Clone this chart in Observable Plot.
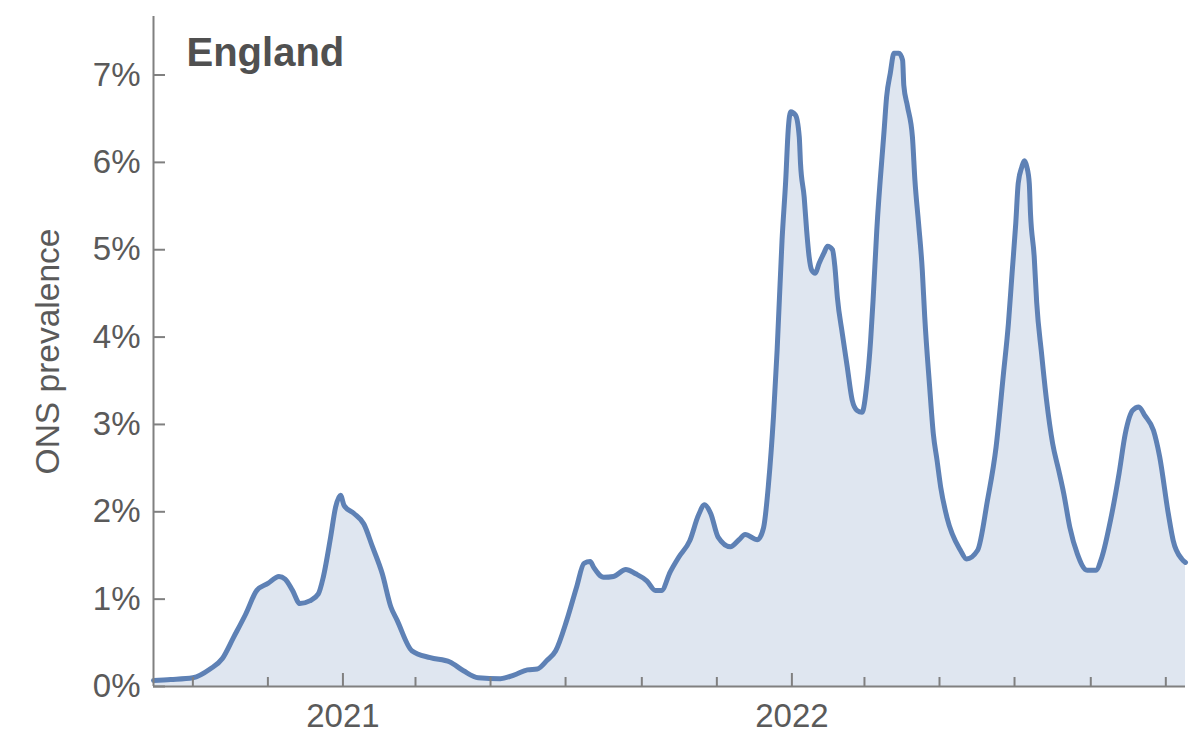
<!DOCTYPE html>
<html>
<head>
<meta charset="utf-8">
<script src="https://cdn.jsdelivr.net/npm/d3@7"></script>
<script src="https://cdn.jsdelivr.net/npm/@observablehq/plot@0.6"></script>
<style>
  html, body { margin: 0; padding: 0; background: #fff; }
</style>
</head>
<body>
<div id="chart"></div>
<script>
const dates = [
  "2020-07-31","2020-08-14","2020-09-01","2020-09-15","2020-09-25","2020-10-04","2020-10-14","2020-10-23",
  "2020-11-01","2020-11-10","2020-11-15","2020-11-21","2020-11-27","2020-12-05","2020-12-12","2020-12-16",
  "2020-12-22","2020-12-26","2020-12-30","2021-01-02","2021-01-10","2021-01-18","2021-01-25","2021-02-02",
  "2021-02-09","2021-02-14","2021-02-26","2021-03-13","2021-03-29","2021-04-09","2021-04-21","2021-05-09",
  "2021-05-20","2021-05-31","2021-06-08","2021-06-16","2021-06-23","2021-07-02","2021-07-10","2021-07-16",
  "2021-07-21","2021-07-24","2021-08-01","2021-08-09","2021-08-19","2021-08-27","2021-09-05","2021-09-12",
  "2021-09-17","2021-09-24","2021-10-01","2021-10-10","2021-10-17","2021-10-22","2021-10-27","2021-11-02",
  "2021-11-12","2021-11-19","2021-11-24","2021-12-04","2021-12-09","2021-12-13","2021-12-17","2021-12-20",
  "2021-12-24","2021-12-27","2021-12-29","2021-12-31","2022-01-04","2022-01-07","2022-01-08","2022-01-11",
  "2022-01-13","2022-01-15","2022-01-17","2022-01-20","2022-01-23","2022-01-27","2022-01-30","2022-02-03",
  "2022-02-05","2022-02-07","2022-02-11","2022-02-15","2022-02-19","2022-02-23","2022-02-27","2022-03-03",
  "2022-03-06","2022-03-08","2022-03-11","2022-03-17","2022-03-19","2022-03-22","2022-03-25","2022-03-29",
  "2022-04-01","2022-04-02","2022-04-05","2022-04-09","2022-04-11","2022-04-14","2022-04-17","2022-04-19",
  "2022-04-23","2022-04-26","2022-04-29","2022-05-02","2022-05-07","2022-05-18","2022-05-23","2022-06-01",
  "2022-06-09","2022-06-16","2022-06-22","2022-06-26","2022-06-29","2022-07-02","2022-07-04","2022-07-07",
  "2022-07-09","2022-07-11","2022-07-13","2022-07-14","2022-07-17","2022-07-19","2022-07-23","2022-07-27",
  "2022-08-01","2022-08-06","2022-08-10","2022-08-15","2022-08-21","2022-08-29","2022-09-05","2022-09-10",
  "2022-09-17","2022-09-24","2022-09-29","2022-10-05","2022-10-10","2022-10-15","2022-10-22","2022-10-27",
  "2022-11-03","2022-11-07","2022-11-14","2022-11-17"
];
const prevalence = [
  0.07,0.08,0.10,0.20,0.32,0.56,0.83,1.10,
  1.18,1.26,1.23,1.10,0.95,0.98,1.06,1.25,
  1.71,2.05,2.19,2.07,1.98,1.86,1.60,1.29,
  0.91,0.76,0.41,0.33,0.28,0.18,0.10,0.09,
  0.13,0.19,0.20,0.30,0.41,0.76,1.14,1.41,
  1.43,1.36,1.25,1.26,1.34,1.29,1.21,1.10,
  1.10,1.31,1.48,1.67,1.96,2.08,1.98,1.71,
  1.60,1.68,1.74,1.68,1.82,2.32,3.08,3.85,
  5.11,5.80,6.37,6.58,6.54,6.29,5.99,5.60,
  5.22,4.92,4.77,4.73,4.84,4.96,5.04,5.00,
  4.80,4.45,4.04,3.66,3.28,3.16,3.14,3.47,
  3.96,4.42,5.22,6.37,6.75,7.02,7.25,7.25,
  7.17,6.88,6.64,6.29,5.80,5.30,4.77,4.23,
  3.43,2.89,2.59,2.28,1.94,1.56,1.46,1.56,
  2.13,2.74,3.58,4.15,4.73,5.30,5.76,5.95,
  6.02,5.95,5.76,5.41,4.92,4.40,3.81,3.28,
  2.78,2.47,2.21,1.82,1.52,1.33,1.33,1.48,
  1.90,2.44,2.89,3.16,3.20,3.10,2.93,2.63,
  1.98,1.67,1.46,1.42
];
const yTicks = [0, 1, 2, 3, 4, 5, 6, 7];
const majorTicks = ["2021-01-01", "2022-01-01"];
const minorTicks = ["2020-09-01","2020-11-01","2021-03-01","2021-05-01","2021-07-01","2021-09-01",
                    "2021-11-01","2022-03-01","2022-05-01","2022-07-01","2022-09-01","2022-11-01"];
const xDomain = ["2020-07-31", "2022-11-17"];
const yDomain = [0, 7.67];
const title = "England";
const yLabel = "ONS prevalence";

const data = dates.map((d, i) => ({date: new Date(d), value: prevalence[i]}));

const W = 1200, H = 737;
const mL = 153, mR = 15, mT = 16, mB = 51;
const plotW = W - mL - mR, plotH = H - mT - mB;
const blue = "#5E81B5";
const axisGray = "#808080";
const textGray = "#5a5a5a";
const font = "'Liberation Sans', Arial, Helvetica, sans-serif";

const chart = Plot.plot({
  width: W,
  height: H,
  marginLeft: mL,
  marginRight: mR,
  marginTop: mT,
  marginBottom: mB,
  style: {fontFamily: font, background: "#fff", color: textGray},
  x: {type: "utc", domain: xDomain.map(d => new Date(d))},
  y: {domain: yDomain},
  marks: [
    Plot.areaY(data, {x: "date", y: "value", fill: blue, fillOpacity: 0.2, curve: "monotone-x"}),
    Plot.lineY(data, {x: "date", y: "value", stroke: blue, strokeWidth: 5, curve: "monotone-x", strokeLinejoin: "round", strokeLinecap: "round"}),
    Plot.ruleY([0], {stroke: axisGray, strokeWidth: 2}),
    Plot.ruleX([new Date(xDomain[0])], {stroke: axisGray, strokeWidth: 2}),
    Plot.tickY(yTicks, {y: d => d, stroke: axisGray, strokeWidth: 2, insetRight: plotW - 12}),
    Plot.tickX(minorTicks, {x: d => new Date(d), stroke: axisGray, strokeWidth: 2, insetTop: plotH - 9}),
    Plot.tickX(majorTicks, {x: d => new Date(d), stroke: axisGray, strokeWidth: 2, insetTop: plotH - 13}),
    Plot.axisY({ticks: yTicks, tickSize: 0, tickPadding: 13, tickFormat: d => d + "%", fontSize: 33, fill: textGray, label: null}),
    Plot.axisX({ticks: majorTicks.map(d => new Date(d)), tickSize: 0, tickPadding: 17, tickFormat: d => String(d.getUTCFullYear()), fontSize: 33, fill: textGray, label: null}),
    Plot.text([yLabel], {frameAnchor: "left", textAnchor: "middle", lineAnchor: "middle", rotate: -90, dx: -105, fontSize: 33.5, fill: textGray, text: d => d}),
    Plot.text([title], {frameAnchor: "top-left", textAnchor: "start", lineAnchor: "top", dx: 33, dy: 21, fontSize: 40, fontWeight: "bold", fill: "#505050", text: d => d})
  ]
});
document.getElementById("chart").appendChild(chart);
</script>
</body>
</html>
